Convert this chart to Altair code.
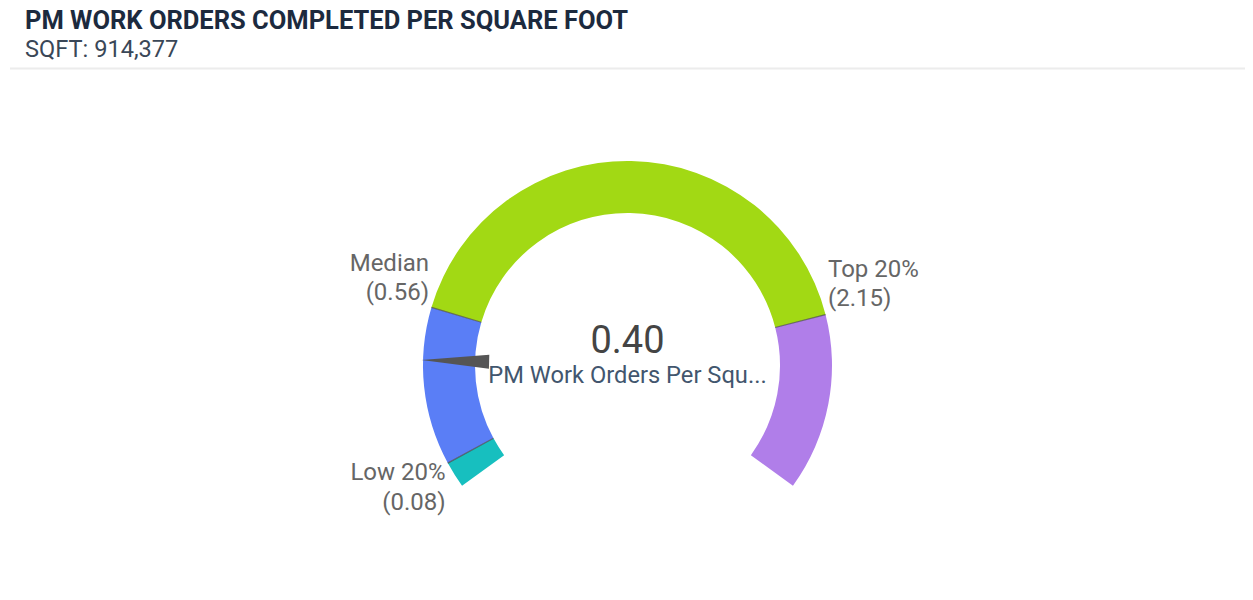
import math
import altair as alt
import pandas as pd

# ---------------- data ----------------
title_text = "PM WORK ORDERS COMPLETED PER SQUARE FOOT"
subtitle_text = "SQFT: 914,377"
band_names = ["Low", "Below median", "Above median", "Top"]
band_start = [0.0, 0.08, 0.56, 2.15]
band_end = [0.08, 0.56, 2.15, 2.6875]
band_colors = ["#17bfbf", "#5a7ef6", "#a2d914", "#b07ee9"]
threshold_names = ["Low 20%", "Median", "Top 20%"]
threshold_values = [0.08, 0.56, 2.15]
threshold_side = ["low", "left", "right"]
current_value = 0.40
metric_label = "PM Work Orders Per Squ..."
gauge_min = 0.0
gauge_max = 2.6875

# ---------------- layout ----------------
W, H = 1237, 580
CX, CY = 619.5, 357.5
R_OUT, R_IN = 204.5, 152.5
FONT = "Roboto"

bands = pd.DataFrame({"band": band_names, "start": band_start, "end": band_end})
thresholds = pd.DataFrame({"name": threshold_names, "value": threshold_values, "side": threshold_side})
needle = pd.DataFrame({"value": [current_value], "label": [metric_label]})

theta_scale = alt.Scale(domain=[gauge_min, gauge_max],
                        range=[-math.radians(126), math.radians(126)])
angle_scale = alt.Scale(domain=[gauge_min, gauge_max], range=[234, 486])

cx = alt.value(CX)
cy = alt.value(CY)

arcs = alt.Chart(bands).mark_arc(radius=R_OUT, radius2=R_IN).encode(
    theta=alt.Theta("start:Q", scale=theta_scale, stack=None),
    theta2="end:Q",
    color=alt.Color("band:N", scale=alt.Scale(domain=band_names, range=band_colors), legend=None),
    x=cx, y=cy,
)

seps = alt.Chart(thresholds).transform_calculate(
    s="datum.value - 0.0022", e="datum.value + 0.0022"
).mark_arc(radius=R_OUT, radius2=R_IN, color="#4d4d4d", opacity=0.75).encode(
    theta=alt.Theta("s:Q", scale=theta_scale, stack=None),
    theta2="e:Q",
    x=cx, y=cy,
)

needle_path = "M 0 -1 L 0.034 -0.672 L -0.034 -0.672 Z"
needle_mark = alt.Chart(needle).mark_point(
    shape=needle_path, size=(2 * 206) ** 2, filled=True, color="#555555", opacity=1
).encode(
    angle=alt.Angle("value:Q", scale=angle_scale),
    x=cx, y=cy,
)

def label_layer(side, align, baseline, dy):
    return alt.Chart(thresholds).transform_filter(
        alt.datum.side == side
    ).transform_calculate(
        txt="datum.name + '\\n(' + format(datum.value, '.2f') + ')'"
    ).mark_text(
        radius=207, align=align, baseline=baseline, dy=dy, font=FONT,
        fontSize=24, lineBreak="\n", lineHeight=29.5, color="#666666"
    ).encode(
        theta=alt.Theta("value:Q", scale=theta_scale, stack=None),
        text="txt:N",
        x=cx, y=cy,
    )

lbl_left = label_layer("left", "right", "bottom", -31)
lbl_right = label_layer("right", "left", "bottom", -32.5)
lbl_low = label_layer("low", "right", "top", -3)

value_text = alt.Chart(needle).transform_calculate(
    vt="format(datum.value, '.2f')"
).mark_text(font=FONT, fontSize=38, color="#444444", align="center",
            baseline="alphabetic").encode(
    text="vt:N", x=cx, y=alt.value(345.3)
)
metric_text = alt.Chart(needle).mark_text(
    font=FONT, fontSize=23.7, color="#42566e", align="center", baseline="alphabetic"
).encode(text="label:N", x=cx, y=alt.value(375.3))

head = pd.DataFrame({"t": [title_text], "s": [subtitle_text]})
title_mark = alt.Chart(head).mark_text(
    font=FONT, fontSize=25.5, fontWeight="bold", color="#1c2a3e", align="left",
    baseline="alphabetic"
).encode(text="t:N", x=alt.value(17), y=alt.value(20.5))
sub_mark = alt.Chart(head).mark_text(
    font=FONT, fontSize=23.6, color="#3a4757", align="left", baseline="alphabetic"
).encode(text="s:N", x=alt.value(17), y=alt.value(49))
sep_line = alt.Chart(head).mark_rule(color="#ececec", strokeWidth=2).encode(
    x=alt.value(2), x2=alt.value(1237), y=alt.value(60.5)
)

chart = alt.layer(
    sep_line, arcs, seps, needle_mark, lbl_left, lbl_right, lbl_low,
    value_text, metric_text, title_mark, sub_mark
).properties(
    width=W, height=H, padding=0,
    autosize=alt.AutoSizeParams(type="fit", contains="padding"),
).configure_view(stroke=None)

chart.save("out.html", embed_options={"renderer": "svg", "actions": False})
